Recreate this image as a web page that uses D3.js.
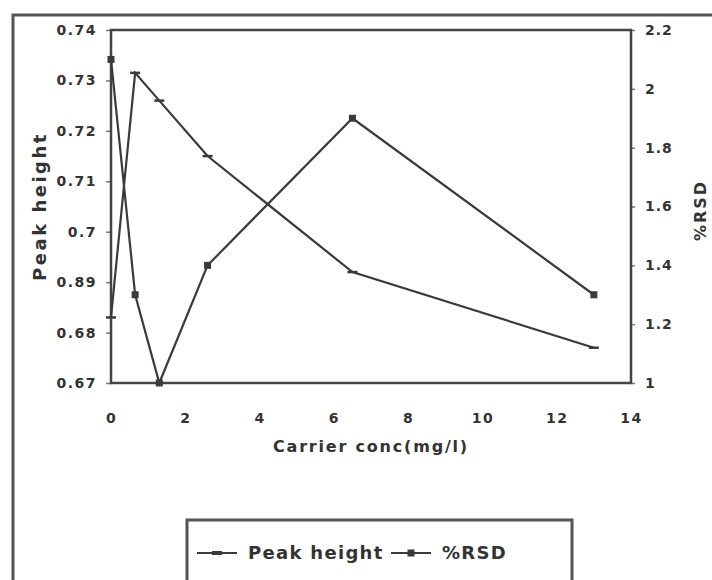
<!DOCTYPE html>
<html>
<head>
<meta charset="utf-8">
<script src="https://cdn.jsdelivr.net/npm/d3@7/dist/d3.min.js"></script>
<style>
  html, body { margin: 0; padding: 0; background: #fff; }
  svg { display: block; }
  text { font-family: "DejaVu Sans", Verdana, sans-serif; font-weight: bold; fill: #333; }
</style>
</head>
<body>
<svg id="chart" width="712" height="580"></svg>
<script>
// Carrier concentration (mg/l)
const carrierConc = [0, 0.65, 1.3, 2.6, 6.5, 13];
// Peak height (primary axis)
const peakHeight = [0.683, 0.7315, 0.726, 0.715, 0.692, 0.677];
// %RSD (secondary axis)
const rsd = [2.1, 1.3, 1.0, 1.4, 1.9, 1.3];

const xTicks = [0, 2, 4, 6, 8, 10, 12, 14];
const leftTicks = [0.67, 0.68, 0.69, 0.70, 0.71, 0.72, 0.73, 0.74];
const leftTickLabels = ["0.67", "0.68", "0.89", "0.7", "0.71", "0.72", "0.73", "0.74"];
const rightTicks = [1, 1.2, 1.4, 1.6, 1.8, 2, 2.2];

const seriesNames = ["Peak height", "%RSD"];

const svg = d3.select("#chart");
const ink = "#3a3a3a";

const plot = { left: 111, right: 631, top: 30, bottom: 383 };

const x = d3.scaleLinear().domain([0, 14]).range([plot.left, plot.right]);
const yL = d3.scaleLinear().domain([0.67, 0.74]).range([plot.bottom, plot.top]);
const yR = d3.scaleLinear().domain([1, 2.2]).range([plot.bottom, plot.top]);

// outer chart frame (runs past the right and bottom edges)
svg.append("rect")
  .attr("x", 13).attr("y", 15).attr("width", 710).attr("height", 600)
  .attr("fill", "none").attr("stroke", "#555").attr("stroke-width", 3);

// axes
const axL = svg.append("g").attr("transform", `translate(${plot.left},0)`)
  .call(d3.axisLeft(yL).tickValues(leftTicks).tickSize(5).tickPadding(9)
    .tickFormat((d, i) => leftTickLabels[i]));
const axR = svg.append("g").attr("transform", `translate(${plot.right},0)`)
  .call(d3.axisRight(yR).tickValues(rightTicks).tickSize(4).tickPadding(10)
    .tickFormat(d3.format("~g")));
const axB = svg.append("g").attr("transform", `translate(0,${plot.bottom})`)
  .call(d3.axisBottom(x).tickValues(xTicks).tickSize(0).tickPadding(28)
    .tickFormat(d3.format("d")));

[axL, axR, axB].forEach(g => {
  g.select(".domain").remove();
  g.selectAll(".tick line").attr("stroke", "#777").attr("stroke-width", 1.5);
  g.selectAll(".tick text").style("font-size", "14px").attr("letter-spacing", "1.5px")
    .attr("fill", "#333");
});
axR.selectAll(".tick text").attr("letter-spacing", "1px");
axB.selectAll(".tick text").attr("dy", "0.35em").attr("y", 35);

// plot area frame
svg.append("rect")
  .attr("x", plot.left).attr("y", plot.top)
  .attr("width", plot.right - plot.left).attr("height", plot.bottom - plot.top)
  .attr("fill", "none").attr("stroke", "#444").attr("stroke-width", 2.5);

// series lines
const linePeak = d3.line().x((d, i) => x(carrierConc[i])).y(d => yL(d));
const lineRsd = d3.line().x((d, i) => x(carrierConc[i])).y(d => yR(d));

svg.append("path").datum(peakHeight).attr("d", linePeak)
  .attr("fill", "none").attr("stroke", ink).attr("stroke-width", 2.2);
svg.append("path").datum(rsd).attr("d", lineRsd)
  .attr("fill", "none").attr("stroke", ink).attr("stroke-width", 2.2);

// dash markers for peak height
svg.selectAll(".mPeak").data(peakHeight).join("line")
  .attr("class", "mPeak")
  .attr("x1", (d, i) => x(carrierConc[i]) - 5).attr("x2", (d, i) => x(carrierConc[i]) + 5)
  .attr("y1", d => yL(d)).attr("y2", d => yL(d))
  .attr("stroke", ink).attr("stroke-width", 2.5);

// square markers for %RSD
svg.selectAll(".mRsd").data(rsd).join("rect")
  .attr("class", "mRsd")
  .attr("x", (d, i) => x(carrierConc[i]) - 3.5).attr("y", d => yR(d) - 3.5)
  .attr("width", 7).attr("height", 7).attr("fill", ink);

// axis titles
svg.append("text")
  .attr("transform", `translate(46,${(plot.top + plot.bottom) / 2}) rotate(-90)`)
  .attr("text-anchor", "middle").style("font-size", "18px").attr("letter-spacing", "2.5px")
  .text("Peak height");
svg.append("text")
  .attr("transform", `translate(706,${(plot.top + plot.bottom) / 2 + 4}) rotate(-90)`)
  .attr("text-anchor", "middle").style("font-size", "16px").attr("letter-spacing", "2px")
  .text("%RSD");
svg.append("text")
  .attr("x", (plot.left + plot.right) / 2).attr("y", 452)
  .attr("text-anchor", "middle").style("font-size", "16px").attr("letter-spacing", "1.8px")
  .text("Carrier conc(mg/l)");

// legend
const lg = svg.append("g");
lg.append("rect")
  .attr("x", 187).attr("y", 520).attr("width", 385).attr("height", 100)
  .attr("fill", "#fff").attr("stroke", "#555").attr("stroke-width", 3);

const legendItems = [
  { name: seriesNames[0], x0: 197, marker: "dash" },
  { name: seriesNames[1], x0: 391, marker: "square" }
];
const ly = 553;
legendItems.forEach(it => {
  lg.append("line").attr("x1", it.x0).attr("x2", it.x0 + 40).attr("y1", ly).attr("y2", ly)
    .attr("stroke", ink).attr("stroke-width", 2.2);
  if (it.marker === "dash") {
    lg.append("line").attr("x1", it.x0 + 15).attr("x2", it.x0 + 25).attr("y1", ly).attr("y2", ly)
      .attr("stroke", ink).attr("stroke-width", 4);
  } else {
    lg.append("rect").attr("x", it.x0 + 16.5).attr("y", ly - 3.5).attr("width", 7).attr("height", 7)
      .attr("fill", ink);
  }
  lg.append("text").attr("x", it.x0 + 51).attr("y", ly).attr("dy", "0.35em")
    .style("font-size", "18px").attr("letter-spacing", "1.3px").text(it.name);
});
</script>
</body>
</html>
